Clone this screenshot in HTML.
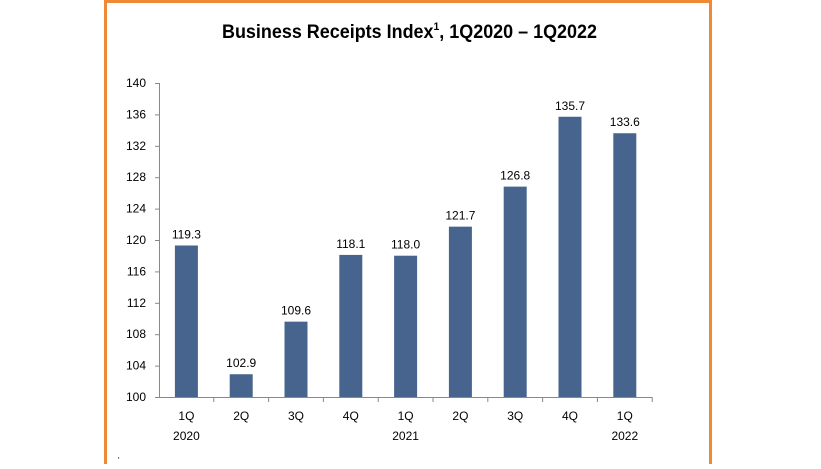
<!DOCTYPE html>
<html><head><meta charset="utf-8"><style>
body{margin:0;background:#fff;width:821px;height:464px;overflow:hidden;font-family:"Liberation Sans",sans-serif}
</style></head><body>
<svg width="821" height="464" xmlns="http://www.w3.org/2000/svg" font-family="Liberation Sans, sans-serif">
<rect x="105.5" y="1.5" width="605" height="480" fill="none" stroke="#ee8a35" stroke-width="3"/>
<text x="222" y="38" font-size="19" font-weight="bold" fill="#000" textLength="375" lengthAdjust="spacingAndGlyphs">Business Receipts Index<tspan font-size="11" dy="-8">1</tspan><tspan dy="8">, 1Q2020 – 1Q2022</tspan></text>
<g stroke="#888" stroke-width="1">
<line x1="159.5" y1="83" x2="159.5" y2="397"/>
<line x1="159" y1="397.5" x2="652" y2="397.5"/>
</g>
<g id="yt" font-size="12" fill="#000" text-anchor="end"></g>
<g id="bars"></g>
<text x="118" y="463" font-size="8">'</text>
<script>
var ns="http://www.w3.org/2000/svg";
function y(v){return 397-(v-100)*7.85;}
var yt=document.getElementById('yt');
for(var v=100;v<=140;v+=4){
 var t=document.createElementNS(ns,'text');t.setAttribute('x',146);t.setAttribute('y',y(v)+4);t.textContent=v;yt.appendChild(t);
 var l=document.createElementNS(ns,'line');l.setAttribute('x1',155);l.setAttribute('x2',160);l.setAttribute('y1',y(v)+.5);l.setAttribute('y2',y(v)+.5);l.setAttribute('stroke','#888');yt.appendChild(l);
}
var d=[119.3,102.9,109.6,118.1,118.0,121.7,126.8,135.7,133.6];
var q=['1Q','2Q','3Q','4Q','1Q','2Q','3Q','4Q','1Q'];
var yr={0:'2020',4:'2021',8:'2022'};
var g=document.getElementById('bars');
var cw=54.8;
for(var i=0;i<9;i++){
 var c=159+cw*(i+0.5);
 var r=document.createElementNS(ns,'rect');r.setAttribute('x',c-11.5);r.setAttribute('width',23);r.setAttribute('y',y(d[i]));r.setAttribute('height',397-y(d[i]));r.setAttribute('fill','#46648e');g.appendChild(r);
 var t=document.createElementNS(ns,'text');t.setAttribute('x',c);t.setAttribute('y',y(d[i])-7);t.setAttribute('text-anchor','middle');t.setAttribute('font-size','12');t.textContent=d[i].toFixed(1);g.appendChild(t);
 var tk=document.createElementNS(ns,'line');var tx=159+cw*(i+1);tk.setAttribute('x1',tx);tk.setAttribute('x2',tx);tk.setAttribute('y1',397);tk.setAttribute('y2',402);tk.setAttribute('stroke','#888');g.appendChild(tk);
 var a=document.createElementNS(ns,'text');a.setAttribute('x',c);a.setAttribute('y',420);a.setAttribute('text-anchor','middle');a.setAttribute('font-size','12');a.textContent=q[i];g.appendChild(a);
 if(yr[i]){var b=document.createElementNS(ns,'text');b.setAttribute('x',c);b.setAttribute('y',440);b.setAttribute('text-anchor','middle');b.setAttribute('font-size','12');b.textContent=yr[i];g.appendChild(b);}
}
</script>
</svg>
</body></html>
